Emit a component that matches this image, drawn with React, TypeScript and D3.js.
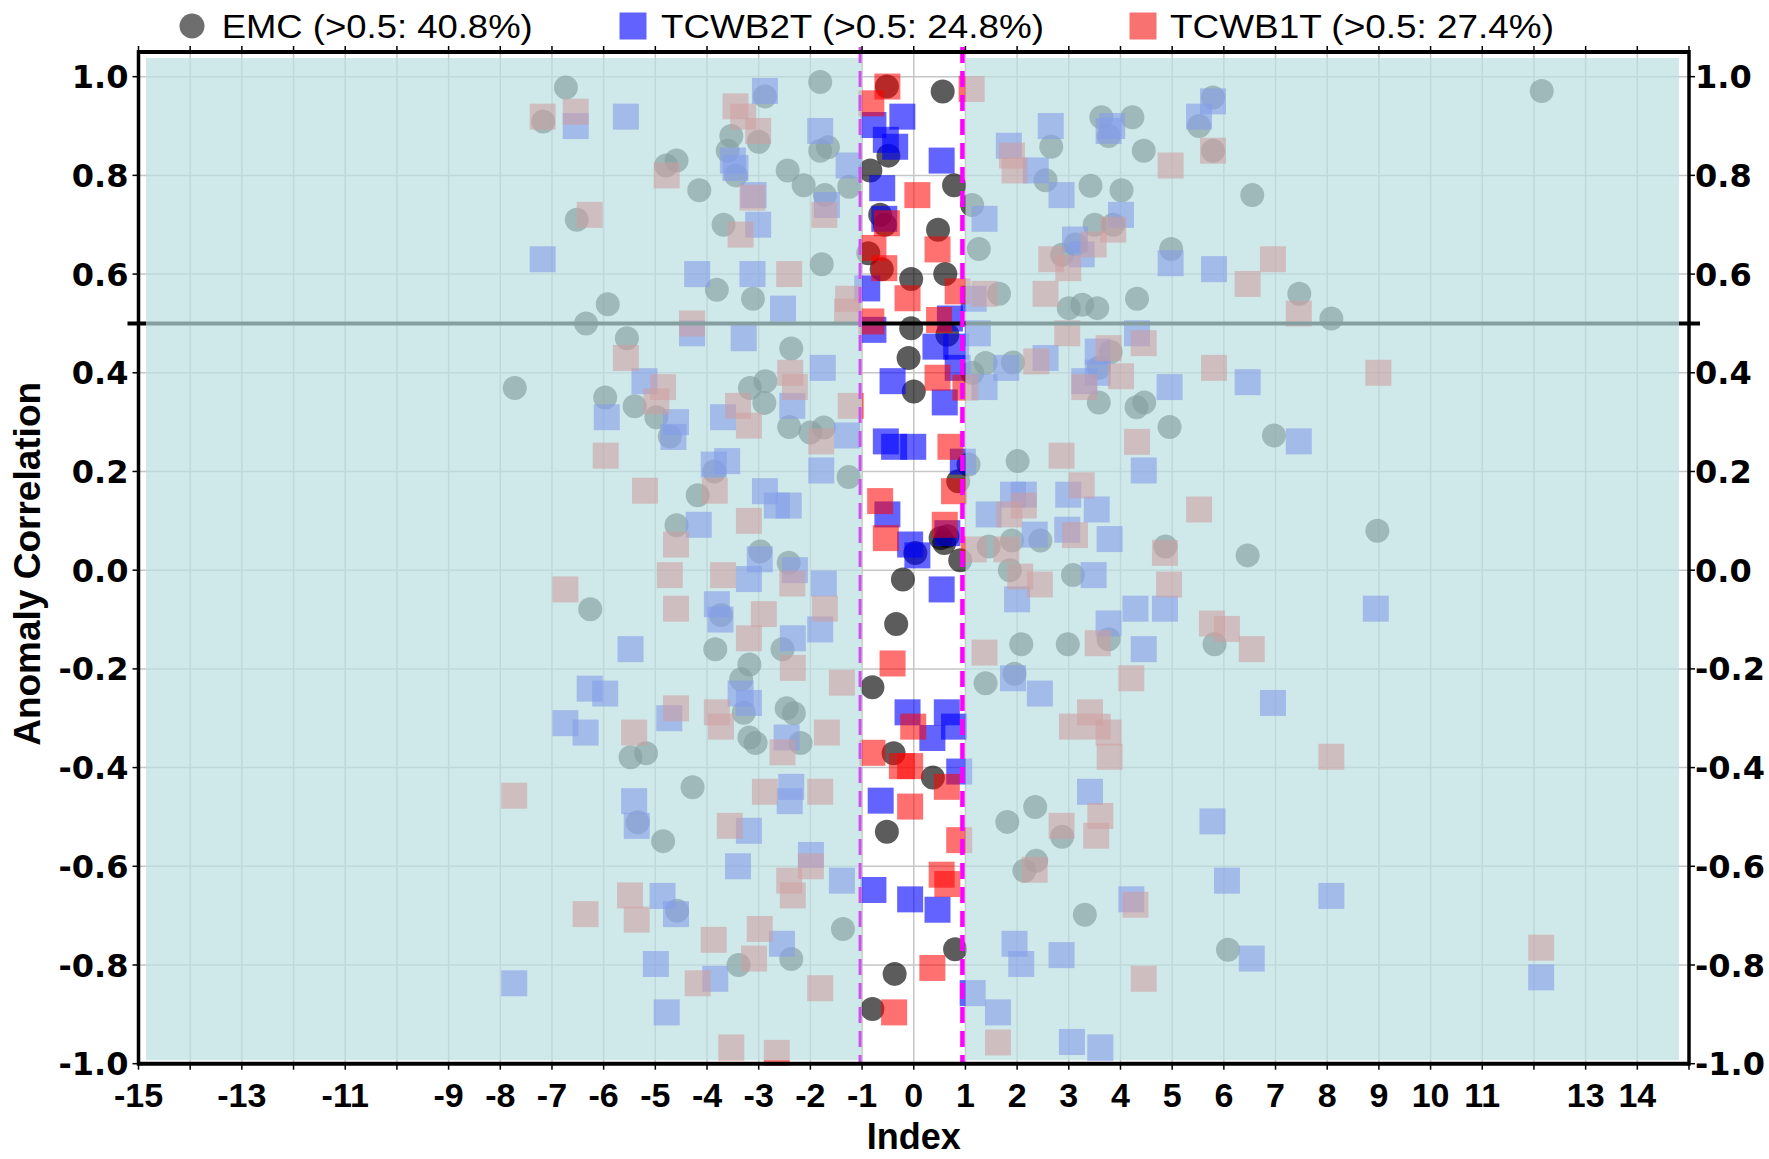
import React from "react";
import * as d3 from "d3";

// Anomaly correlation per case, plotted against its index position.
const emcPoints: [number, number][] = [
  [-6.73, 0.978], [-7.17, 0.909], [-4.59, 0.83], [-4.79, 0.82], [-2.88, 0.96], [-1.81, 0.989],
  [-3.53, 0.88], [-3.6, 0.85], [-3.0, 0.868], [-3.44, 0.8], [-4.15, 0.77], [-2.44, 0.81],
  [-2.13, 0.78], [-1.81, 0.85], [-1.66, 0.857], [-1.25, 0.777], [-1.72, 0.76], [-6.52, 0.71],
  [-3.68, 0.7], [-1.78, 0.62], [-3.81, 0.568], [-3.11, 0.55], [-5.92, 0.539], [-6.34, 0.5],
  [-5.55, 0.47], [-2.37, 0.449], [-7.72, 0.369], [-5.97, 0.35], [-5.4, 0.332], [-4.98, 0.31],
  [-4.72, 0.271], [-2.87, 0.383], [-3.17, 0.369], [-2.89, 0.339], [-2.41, 0.29], [-2.0, 0.279],
  [-1.74, 0.289], [-1.26, 0.189], [-3.86, 0.2], [-4.18, 0.152], [-4.59, 0.091], [-2.97, 0.038],
  [-2.42, 0.015], [-6.26, -0.079], [-3.73, -0.091], [-3.84, -0.16], [-2.54, -0.16], [-3.18, -0.191],
  [-3.34, -0.221], [-3.29, -0.289], [-2.46, -0.28], [-2.32, -0.29], [-3.18, -0.339], [-3.06, -0.35],
  [-2.19, -0.35], [-5.48, -0.379], [-5.18, -0.371], [-4.28, -0.44], [-5.34, -0.511], [-4.85, -0.549],
  [-4.58, -0.69], [-1.37, -0.727], [-3.39, -0.8], [-2.37, -0.788],
  [-0.52, 0.98], [0.56, 0.97], [-0.49, 0.84], [-0.84, 0.81], [0.78, 0.78], [-0.65, 0.72],
  [-0.56, 0.7], [0.47, 0.69], [-0.88, 0.642], [-0.62, 0.61], [-0.05, 0.59], [0.61, 0.6],
  [-0.05, 0.49], [0.65, 0.477], [-0.1, 0.43], [0.0, 0.362], [0.86, 0.18], [0.52, 0.065],
  [0.65, 0.069], [0.59, 0.055], [0.03, 0.035], [0.9, 0.02], [-0.21, -0.019], [-0.34, -0.109],
  [-0.8, -0.237], [-0.39, -0.371], [0.37, -0.42], [-0.52, -0.53], [0.8, -0.768], [-0.37, -0.818],
  [-0.8, -0.889],
  [5.79, 0.958], [5.52, 0.9], [5.79, 0.85], [3.63, 0.918], [4.23, 0.918], [3.77, 0.88],
  [2.66, 0.858], [4.45, 0.85], [2.55, 0.79], [3.42, 0.779], [4.02, 0.77], [6.55, 0.76],
  [1.13, 0.74], [1.26, 0.651], [3.5, 0.7], [3.86, 0.7], [3.13, 0.66], [2.87, 0.639],
  [4.98, 0.651], [1.65, 0.56], [3.0, 0.531], [3.26, 0.538], [3.55, 0.531], [4.32, 0.55],
  [7.46, 0.56], [8.08, 0.51], [1.39, 0.42], [1.92, 0.421], [1.13, 0.4], [3.81, 0.442],
  [3.58, 0.41], [3.58, 0.34], [4.31, 0.33], [4.46, 0.34], [4.95, 0.29], [6.97, 0.273],
  [2.01, 0.221], [1.06, 0.214], [1.45, 0.048], [1.9, 0.06], [2.45, 0.06], [4.87, 0.048],
  [6.46, 0.03], [8.97, 0.08], [1.86, 0.0], [3.08, -0.01], [3.77, -0.14], [2.08, -0.15],
  [2.98, -0.15], [5.82, -0.15], [1.95, -0.21], [1.39, -0.229], [2.35, -0.48], [1.81, -0.51],
  [2.87, -0.54], [2.37, -0.589], [2.14, -0.609], [3.31, -0.698], [6.08, -0.769], [12.15, 0.971],
];

const tcwb2tPoints: [number, number][] = [
  [-6.54, 0.9], [-5.57, 0.919], [-2.88, 0.971], [-1.81, 0.89], [-3.5, 0.83], [-3.45, 0.815],
  [-1.26, 0.82], [-3.1, 0.76], [-1.68, 0.74], [-3.01, 0.7], [-7.18, 0.63], [-4.19, 0.6],
  [-3.12, 0.6], [-2.53, 0.53], [-4.29, 0.48], [-3.29, 0.47], [-1.76, 0.41], [-5.21, 0.383],
  [-5.94, 0.31], [-4.6, 0.3], [-4.65, 0.27], [-3.69, 0.31], [-2.35, 0.333], [-1.29, 0.273],
  [-1.79, 0.202], [-3.87, 0.214], [-3.61, 0.221], [-2.88, 0.16], [-2.42, 0.131], [-2.65, 0.131],
  [-4.16, 0.092], [-2.98, 0.022], [-2.3, 0.0], [-3.19, -0.018], [-1.74, -0.027], [-3.81, -0.069],
  [-3.74, -0.1], [-2.34, -0.138], [-1.81, -0.12], [-5.48, -0.16], [-6.27, -0.24], [-5.97, -0.25],
  [-6.74, -0.31], [-6.35, -0.329], [-4.73, -0.3], [-3.35, -0.25], [-3.19, -0.269], [-2.46, -0.339],
  [-2.37, -0.439], [-2.4, -0.468], [-5.41, -0.468], [-5.36, -0.518], [-3.19, -0.528], [-3.4, -0.6],
  [-1.99, -0.577], [-1.39, -0.629], [-4.86, -0.66], [-4.6, -0.697], [-2.55, -0.757], [-4.99, -0.798],
  [-3.84, -0.828], [-7.73, -0.837], [-4.78, -0.896],
  [-0.22, 0.919], [-0.78, 0.902], [-0.54, 0.872], [-0.36, 0.858], [0.54, 0.83], [-0.61, 0.774],
  [-0.57, 0.712], [-0.9, 0.571], [-0.78, 0.487], [0.7, 0.51], [0.42, 0.453], [0.82, 0.453],
  [0.85, 0.41], [-0.41, 0.383], [0.6, 0.34], [-0.54, 0.261], [-0.38, 0.25], [-0.01, 0.25],
  [0.95, 0.22], [-0.51, 0.113], [-0.07, 0.052], [0.07, 0.03], [0.65, 0.075], [0.54, -0.039],
  [-0.12, -0.288], [0.64, -0.288], [0.36, -0.34], [0.78, -0.317], [0.88, -0.408], [-0.64, -0.467],
  [-0.78, -0.648], [-0.07, -0.667], [0.46, -0.688],
  [5.79, 0.95], [5.52, 0.919], [2.65, 0.9], [1.84, 0.86], [3.84, 0.9], [3.77, 0.89],
  [2.36, 0.81], [2.86, 0.76], [1.37, 0.712], [4.01, 0.72], [3.12, 0.67], [3.25, 0.64],
  [4.97, 0.622], [5.81, 0.61], [1.16, 0.55], [4.32, 0.48], [1.24, 0.48], [2.55, 0.43],
  [3.56, 0.443], [1.79, 0.41], [3.3, 0.383], [3.56, 0.4], [1.37, 0.371], [4.95, 0.371],
  [6.46, 0.381], [7.45, 0.261], [4.45, 0.202], [1.92, 0.153], [2.13, 0.153], [2.99, 0.153],
  [3.54, 0.123], [1.45, 0.113], [2.34, 0.072], [2.97, 0.082], [3.79, 0.063], [3.48, -0.01],
  [2.0, -0.059], [4.29, -0.078], [4.86, -0.078], [3.77, -0.108], [4.45, -0.16], [1.92, -0.219],
  [2.44, -0.25], [6.95, -0.269], [3.41, -0.449], [5.78, -0.509], [6.06, -0.629], [8.08, -0.66],
  [4.21, -0.667], [1.95, -0.757], [2.08, -0.798], [2.86, -0.78], [6.54, -0.787], [1.14, -0.857],
  [1.63, -0.896], [3.06, -0.956], [3.61, -0.967], [8.94, -0.078], [12.14, -0.825],
];

const tcwb1tPoints: [number, number][] = [
  [-7.18, 0.919], [-6.54, 0.929], [-3.45, 0.94], [-3.3, 0.919], [-3.01, 0.89], [-4.78, 0.8],
  [-3.12, 0.755], [-6.27, 0.72], [-1.73, 0.72], [-3.35, 0.68], [-2.41, 0.6], [-1.27, 0.55],
  [-1.29, 0.524], [-4.29, 0.5], [-5.57, 0.43], [-2.39, 0.4], [-4.85, 0.371], [-2.3, 0.371],
  [-4.98, 0.342], [-3.4, 0.333], [-3.19, 0.293], [-1.79, 0.261], [-1.22, 0.333], [-5.96, 0.232],
  [-5.2, 0.161], [-3.85, 0.161], [-3.19, 0.1], [-4.6, 0.052], [-4.72, -0.01], [-3.69, -0.01],
  [-6.74, -0.039], [-4.6, -0.078], [-2.9, -0.089], [-3.19, -0.138], [-2.35, -0.027], [-1.72, -0.078],
  [-2.34, -0.198], [-1.39, -0.228], [-4.6, -0.28], [-5.41, -0.329], [-3.81, -0.288], [-3.73, -0.317],
  [-2.54, -0.369], [-1.68, -0.329], [-7.73, -0.457], [-2.88, -0.449], [-1.81, -0.449], [-3.56, -0.518],
  [-1.99, -0.6], [-2.41, -0.629], [-2.34, -0.659], [-5.49, -0.659], [-6.35, -0.697], [-5.36, -0.708],
  [-3.87, -0.749], [-2.98, -0.727], [-3.09, -0.787], [-4.18, -0.837], [-1.81, -0.847], [-3.53, -0.967],
  [-2.65, -0.978],
  [-0.51, 0.98], [1.12, 0.975], [-0.82, 0.946], [0.07, 0.76], [-0.52, 0.703], [0.46, 0.65],
  [-0.78, 0.653], [-0.57, 0.612], [-0.12, 0.551], [0.85, 0.565], [-0.82, 0.504], [0.49, 0.507],
  [0.46, 0.39], [0.71, 0.25], [-0.65, 0.14], [-0.54, 0.065], [0.6, 0.092], [0.78, 0.16],
  [1.0, 0.37], [-0.41, -0.189], [-0.01, -0.317], [-0.8, -0.37], [-0.23, -0.397], [-0.07, -0.397],
  [0.64, -0.439], [-0.07, -0.479], [0.88, -0.547], [0.54, -0.617], [0.65, -0.636], [0.36, -0.806],
  [-0.38, -0.896],
  [1.9, 0.84], [1.95, 0.81], [4.97, 0.82], [5.79, 0.85], [2.66, 0.63], [2.99, 0.612],
  [3.48, 0.66], [3.86, 0.69], [6.95, 0.63], [6.46, 0.58], [2.55, 0.56], [1.37, 0.56],
  [7.45, 0.52], [2.97, 0.48], [4.45, 0.46], [3.77, 0.45], [2.37, 0.423], [5.81, 0.41],
  [4.01, 0.393], [3.3, 0.371], [8.99, 0.4], [4.32, 0.26], [2.86, 0.232], [3.25, 0.172],
  [2.13, 0.131], [1.85, 0.113], [5.52, 0.123], [3.12, 0.071], [1.16, 0.042], [1.79, 0.042],
  [4.86, 0.035], [2.06, -0.013], [2.44, -0.029], [4.94, -0.029], [1.37, -0.167], [3.56, -0.148],
  [5.77, -0.108], [6.06, -0.119], [6.54, -0.16], [4.21, -0.219], [3.41, -0.288], [3.06, -0.317],
  [3.56, -0.317], [3.77, -0.329], [3.79, -0.378], [8.08, -0.378], [2.86, -0.518], [3.61, -0.498],
  [3.53, -0.538], [2.34, -0.607], [4.29, -0.678], [4.45, -0.828], [1.63, -0.957], [12.14, -0.765],
];

const xTickLabels = [-15, -13, -11, -9, -8, -7, -6, -5, -4, -3, -2, -1, 0, 1, 2, 3, 4, 5, 6, 7, 8, 9, 10, 11, 13, 14];
const yTickValues = [-1.0, -0.8, -0.6, -0.4, -0.2, 0.0, 0.2, 0.4, 0.6, 0.8, 1.0];
const seriesNames = ["EMC (>0.5: 40.8%)", "TCWB2T (>0.5: 24.8%)", "TCWB1T (>0.5: 27.4%)"];
const threshold = 0.5;
const bandEdges = [-1, 1];

const W = 1769;
const H = 1159;
const SANS = "'Liberation Sans', Arial, sans-serif";
const WIDE = "'DejaVu Sans', Verdana, sans-serif";

export default function App() {
  const x = d3.scaleLinear().domain([-15, 15]).range([138.5, 1689]);
  const y = d3.scaleLinear().domain([-1, 1.05]).range([1063.7, 52]);
  const [x0, x1] = x.range();
  const yTop = y(1.05);
  const yBot = y(-1);
  const bandL = x(bandEdges[0]);
  const bandR = x(bandEdges[1]);
  const intTicks = d3.range(-15, 16);
  const gridY = yTickValues.filter((v) => v > -1);
  const gridX = d3.range(-14, 15);
  const sq = 26;
  const r = 12;
  const shadeTop = yTop + 6;
  const shadeBot = yBot - 3.5;
  const shadeL = x0 + 7.5;
  const shadeR = x1 - 10;

  const legendX = [221.7, 661, 1170];
  const legendLen = [311, 383, 384];

  return (
    <svg width={W} height={H} style={{ position: "absolute", left: 0, top: 0, background: "#fff" }}>
      <rect x={0} y={0} width={W} height={H} fill="#fff" />
      {/* grid */}
      <g stroke="#c6c6c6" strokeWidth={1.5}>
        {gridY.map((v) => (
          <line key={"gy" + v} x1={x0} x2={x1} y1={y(v)} y2={y(v)} />
        ))}
        {gridX.map((v) => (
          <line key={"gx" + v} x1={x(v)} x2={x(v)} y1={yTop} y2={yBot} />
        ))}
      </g>

      {/* points */}
      <g>
        {emcPoints.map(([a, b], i) => (
          <circle key={"e" + i} cx={x(a)} cy={y(b)} r={r} fill="#000" fillOpacity={0.64} />
        ))}
        {tcwb2tPoints.map(([a, b], i) => (
          <rect key={"b" + i} x={x(a) - sq / 2} y={y(b) - sq / 2} width={sq} height={sq} fill="#0000ff" fillOpacity={0.61} />
        ))}
        {tcwb1tPoints.map(([a, b], i) => (
          <rect key={"r" + i} x={x(a) - sq / 2} y={y(b) - sq / 2} width={sq} height={sq} fill="#ff0000" fillOpacity={0.56} />
        ))}
      </g>

      {/* threshold line */}
      <line x1={x0 - 11} x2={x1 + 11} y1={y(threshold)} y2={y(threshold)} stroke="#000" strokeWidth={4} />

      {/* shading outside the central band */}
      <g fill="rgb(187,222,224)" fillOpacity={0.71}>
        <rect x={shadeL} y={shadeTop} width={bandL - shadeL} height={shadeBot - shadeTop} />
        <rect x={bandR} y={shadeTop} width={shadeR - bandR} height={shadeBot - shadeTop} />
      </g>

      {/* band edges */}
      <line x1={bandL - 2} x2={bandL - 2} y1={yTop - 5} y2={yBot} stroke="#d050ec" strokeWidth={3} strokeDasharray="16,8" />
      <line x1={bandR - 3} x2={bandR - 3} y1={yTop - 5} y2={yBot} stroke="#ff00ff" strokeWidth={4.5} strokeDasharray="16,8" />

      {/* frame */}
      <g stroke="#000">
        <line x1={x0} x2={x1} y1={yTop} y2={yTop} strokeWidth={4} />
        <line x1={x0} x2={x1} y1={yBot} y2={yBot} strokeWidth={4} />
        <line x1={x0} x2={x0} y1={yTop - 2} y2={yBot + 2} strokeWidth={3.5} />
        <line x1={x1} x2={x1} y1={yTop - 2} y2={yBot + 2} strokeWidth={3.5} />
        {intTicks.map((v) => (
          <g key={"xt" + v} strokeWidth={1.5}>
            <line x1={x(v)} x2={x(v)} y1={yTop} y2={yTop - 6} />
            <line x1={x(v)} x2={x(v)} y1={yBot} y2={yBot + 6} />
          </g>
        ))}
        {yTickValues.map((v) => (
          <g key={"yt" + v} strokeWidth={1.5}>
            <line x1={x0} x2={x0 - 6} y1={y(v)} y2={y(v)} />
            <line x1={x1} x2={x1 + 6} y1={y(v)} y2={y(v)} />
          </g>
        ))}
      </g>

      {/* tick labels */}
      <g fontFamily={WIDE} fontWeight="bold" fontSize={32} fill="#000">
        {yTickValues.map((v) => (
          <text key={"yl" + v} x={x0 - 10} y={y(v)} dy="0.36em" textAnchor="end">
            {v.toFixed(1)}
          </text>
        ))}
        {yTickValues.map((v) => (
          <text key={"yr" + v} x={x1 + 6} y={y(v)} dy="0.36em" textAnchor="start">
            {v.toFixed(1)}
          </text>
        ))}
      </g>
      <g fontFamily={SANS} fontWeight="bold" fontSize={34} fill="#000" textAnchor="middle">
        {xTickLabels.map((v) => (
          <text key={"xl" + v} x={x(v)} y={1107}>
            {String(v)}
          </text>
        ))}
      </g>

      {/* axis titles */}
      <text x={x(0)} y={1149} textAnchor="middle" fontFamily={SANS} fontWeight="bold" fontSize={36}>
        Index
      </text>
      <text
        transform={`translate(40,${(yTop + yBot) / 2 + 6}) rotate(-90)`}
        textAnchor="middle"
        fontFamily={SANS}
        fontWeight="bold"
        fontSize={37}
      >
        Anomaly Correlation
      </text>

      {/* legend */}
      <g fontFamily={SANS} fontSize={34} fill="#000">
        <circle cx={192} cy={26} r={12.5} fill="#6e6e6e" />
        <rect x={633 - 13.5} y={12.5} width={27} height={27} fill="#6262ff" />
        <rect x={1143 - 13.5} y={12.5} width={27} height={27} fill="#f87272" />
        {seriesNames.map((s, i) => (
          <text key={s} x={legendX[i]} y={37.5} textLength={legendLen[i]} lengthAdjust="spacingAndGlyphs">
            {s}
          </text>
        ))}
      </g>
    </svg>
  );
}
